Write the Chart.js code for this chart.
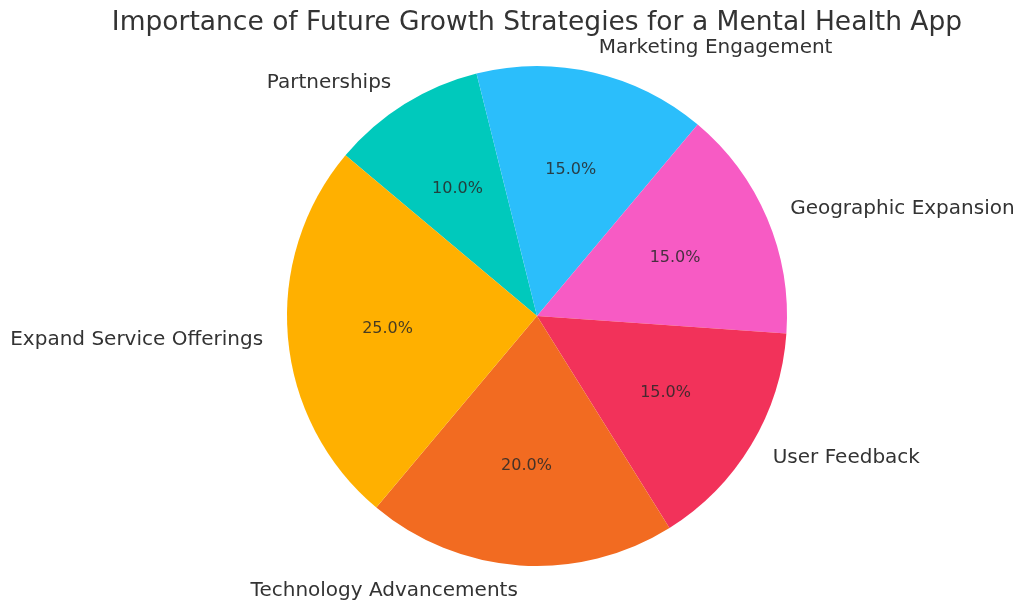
<!DOCTYPE html>
<html>
<head>
<meta charset="utf-8">
<title>Importance of Future Growth Strategies</title>
<script src="https://cdn.jsdelivr.net/npm/chart.js@4"></script>
<style>
    html, body { margin: 0; padding: 0; background: #fff; }
    #wrap { width: 1024px; height: 612px; position: relative; }
</style>
</head>
<body>
<div id="wrap"><canvas id="pie"></canvas></div>
<script>
// data, in the order it was plotted (counterclockwise from 140 deg)
const strategies = ['Expand Service Offerings', 'Technology Advancements', 'User Feedback',
    'Geographic Expansion', 'Marketing Engagement', 'Partnerships'];
const importance = [25, 20, 15, 15, 15, 10];
const sliceColors = ['#FFB000', '#F26B21', '#F2325A', '#F75BC4', '#2BBEFB', '#00C9BC'];
const chartTitle = 'Importance of Future Growth Strategies for a Mental Health App';

// Chart.js draws clockwise, so flip the order to get the same layout
const labels = strategies.slice().reverse();
const values = importance.slice().reverse();
const colors = sliceColors.slice().reverse();

const textPlugin = {
    id: 'pieText',
    afterDraw(chart) {
        const ctx = chart.ctx;
        const meta = chart.getDatasetMeta(0);
        const total = values.reduce((a, b) => a + b, 0);

        ctx.save();
        ctx.fillStyle = '#333333';
        ctx.font = '26.5px "DejaVu Sans"';
        ctx.textAlign = 'center';
        ctx.textBaseline = 'middle';
        ctx.fillText(chartTitle, 537, 23);

        meta.data.forEach((arc, i) => {
            const mid = (arc.startAngle + arc.endAngle) / 2;
            const r = arc.outerRadius;
            const cx = arc.x, cy = arc.y;

            // outer label
            const lx = cx + Math.cos(mid) * r * 1.1;
            const ly = cy + Math.sin(mid) * r * 1.1;
            ctx.font = '20px "DejaVu Sans"';
            ctx.fillStyle = '#333333';
            ctx.textAlign = Math.cos(mid) >= 0 ? 'left' : 'right';
            ctx.textBaseline = 'middle';
            ctx.fillText(labels[i], lx, ly);

            // percentage inside
            const px = cx + Math.cos(mid) * r * 0.6;
            const py = cy + Math.sin(mid) * r * 0.6;
            ctx.font = '16px "DejaVu Sans"';
            ctx.fillStyle = 'rgba(40,40,40,0.85)';
            ctx.textAlign = 'center';
            ctx.fillText((values[i] / total * 100).toFixed(1) + '%', px, py);
        });
        ctx.restore();
    }
};

new Chart(document.getElementById('pie'), {
    type: 'pie',
    data: {
        labels: labels,
        datasets: [{
            data: values,
            backgroundColor: colors,
            borderWidth: 0
        }]
    },
    options: {
        responsive: true,
        maintainAspectRatio: false,
        animation: false,
        rotation: -50,
        layout: {
            padding: { left: 287, right: 237, top: 66, bottom: 46 }
        },
        plugins: {
            legend: { display: false },
            tooltip: { enabled: false }
        }
    },
    plugins: [textPlugin]
});
</script>
</body>
</html>
